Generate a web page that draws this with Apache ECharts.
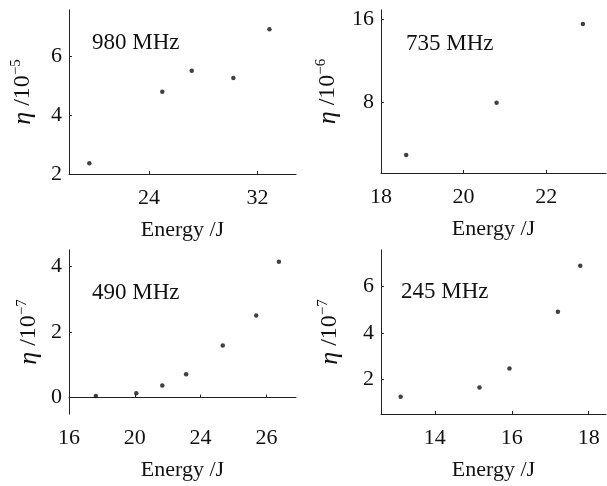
<!DOCTYPE html>
<html>
<head>
<meta charset="utf-8">
<script src="https://cdn.jsdelivr.net/npm/echarts@6/dist/echarts.min.js"></script>
<style>html,body{margin:0;padding:0;background:#fff}#c{width:607px;height:486px}</style>
</head>
<body>
<div id="c"></div>
<script>
// ---- data ----
const labels = ['980 MHz', '735 MHz', '490 MHz', '245 MHz'];
const yExp = ['5', '6', '7', '7'];

const p1x = [19.60, 24.98, 27.15, 30.22, 32.88];
const p1y = [2.36, 4.78, 5.49, 5.25, 6.90];
const p2x = [18.61, 20.80, 22.89];
const p2y = [2.98, 8.00, 15.55];
const p3x = [17.63, 20.09, 21.67, 23.12, 25.35, 27.38, 28.76];
const p3y = [0.05, 0.13, 0.37, 0.71, 1.59, 2.50, 4.14];
const p4x = [13.11, 15.16, 15.94, 17.20, 17.78];
const p4y = [1.25, 1.64, 2.46, 4.91, 6.90];

const xTicks1 = [24, 32];
const yTicks1 = [2, 4, 6];
const xTicks2 = [18, 20, 22];
const yTicks2 = [8, 16];
const xTicks3 = [16, 20, 24, 28];
const xTickText3 = ['16', '20', '24', '26'];
const yTicks3 = [0, 2, 4];
const xTicks4 = [14, 16, 18];
const yTicks4 = [2, 4, 6];

const FONT = '"Liberation Serif", "Times New Roman", serif';

const grids = [
  {left: 69, top: 10, width: 227, height: 164},
  {left: 381, top: 10, width: 225, height: 163},
  {left: 69, top: 250, width: 227, height: 164},
  {left: 381, top: 250, width: 225, height: 164}
];
const xr = [[18.1, 34.84], [18, 23.45], [16, 29.8], [12.6, 18.45]];
const yr = [[2, 7.55], [1.25, 16.9], [-0.5, 4.5], [0.5, 7.58]];
const xt = [xTicks1, xTicks2, xTicks3, xTicks4];
const yt = [yTicks1, yTicks2, yTicks3, yTicks4];
const yGap = [32, 39, 26, 37];
const xs = [p1x, p2x, p3x, p4x];
const ys = [p1y, p2y, p3y, p4y];

const axisLine = {show: true, lineStyle: {color: '#222', width: 1}};
const tick = {show: true, inside: true, length: 3, lineStyle: {color: '#222'}};

const xAxis = [], yAxis = [], series = [], title = [];
for (let i = 0; i < 4; i++) {
  xAxis.push({
    type: 'value', gridIndex: i, min: xr[i][0], max: xr[i][1],
    axisLine: axisLine, splitLine: {show: false},
    axisTick: Object.assign({customValues: xt[i]}, tick),
    axisLabel: {
      customValues: xt[i], color: '#111', fontFamily: FONT, fontSize: 22, margin: 13,
      formatter: i === 2 ? (v) => xTickText3[xTicks3.indexOf(v)] : (v) => String(v)
    },
    name: 'Energy /J', nameLocation: 'middle', nameGap: 45,
    nameTextStyle: {color: '#111', fontFamily: FONT, fontSize: 22}
  });
  yAxis.push({
    type: 'value', gridIndex: i, min: yr[i][0], max: yr[i][1],
    axisLine: axisLine, splitLine: {show: false},
    axisTick: Object.assign({customValues: yt[i]}, tick),
    axisLabel: {customValues: yt[i], color: '#111', fontFamily: FONT, fontSize: 22, margin: 7},
    name: '{eta|η}{n| /10}{sup|−' + yExp[i] + '}', nameLocation: 'middle', nameGap: yGap[i],
    nameTextStyle: {
      color: '#111', fontFamily: FONT, fontSize: 24,
      rich: {
        eta: {fontFamily: FONT, fontStyle: 'italic', fontSize: 26, color: '#111'},
        n: {fontFamily: FONT, fontSize: 24, color: '#111'},
        sup: {fontFamily: FONT, fontSize: 15, color: '#111', padding: [0, 0, 13, 0]}
      }
    }
  });
  series.push({
    type: 'scatter', xAxisIndex: i, yAxisIndex: i,
    data: xs[i].map((x, k) => [x, ys[i][k]]),
    symbol: 'circle', symbolSize: 4.5,
    itemStyle: {color: '#111'}
  });
  title.push({
    text: labels[i], padding: 0,
    left: [92, 406, 92, 401][i], top: [31, 32, 281, 280][i],
    textStyle: {color: '#111', fontFamily: FONT, fontSize: 23, fontWeight: 'normal'}
  });
}

const chart = echarts.init(document.getElementById('c'), null, {renderer: 'canvas'});
chart.setOption({
  backgroundColor: '#fff',
  animation: false,
  title: title,
  grid: grids,
  xAxis: xAxis,
  yAxis: yAxis,
  series: series
});
</script>
</body>
</html>
